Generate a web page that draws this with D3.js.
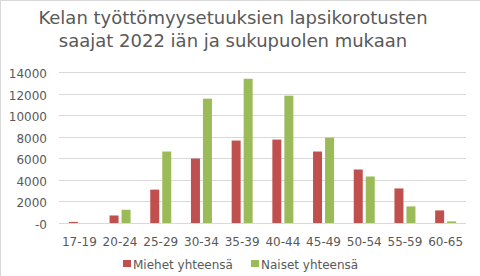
<!DOCTYPE html>
<html>
<head>
<meta charset="utf-8">
<script src="https://cdn.jsdelivr.net/npm/d3@7"></script>
<style>
  body { margin: 0; background: #fff; }
  text { font-family: "DejaVu Sans", sans-serif; fill: #595959; }
</style>
</head>
<body>
<div id="chart"></div>
<script>
// data
const ageGroups = ['17-19', '20-24', '25-29', '30-34', '35-39', '40-44', '45-49', '50-54', '55-59', '60-65'];
const seriesNames = ['Miehet yhteensä', 'Naiset yhteensä'];
const menValues = [100, 700, 3100, 5990, 7660, 7750, 6640, 4970, 3210, 1170];
const womenValues = [0, 1230, 6640, 11550, 13400, 11830, 7930, 4320, 1540, 150];
const yTicks = [0, 2000, 4000, 6000, 8000, 10000, 12000, 14000];
const titleLines = ['Kelan työttömyysetuuksien lapsikorotusten', 'saajat 2022 iän ja sukupuolen mukaan'];

const colors = ['#C0504D', '#9BBB59'];

let width = 480;
let height = 276;
let margin = { top: 72, bottom: 53, left: 59, right: 14 };

let svg = d3.select('#chart')
  .append('svg')
  .attr('width', width)
  .attr('height', height);

// thin frame (only the left/top edges show in the reference)
svg.append('rect')
  .attr('x', 0.5).attr('y', 0.5)
  .attr('width', width + 10).attr('height', height + 10)
  .attr('fill', 'none')
  .attr('stroke', '#d9d9d9');

let rows = ageGroups.map((g, i) => ({ group: g, values: [menValues[i], womenValues[i]] }));

let xScale = d3.scaleBand()
  .domain(ageGroups)
  .range([margin.left, width - margin.right]);

let bw = xScale.bandwidth();
let x1 = d3.scaleBand()
  .domain([0, 1])
  .range([bw / 2 - 10.5, bw / 2 + 10.5])
  .paddingInner(0.25);

let yScale = d3.scaleLinear()
  .domain([0, 14000])
  .range([height - margin.bottom, margin.top + 0.3]);

// gridlines
svg.append('g')
  .selectAll('line')
  .data(yTicks)
  .enter().append('line')
  .attr('x1', margin.left)
  .attr('x2', width - margin.right)
  .attr('y1', d => Math.round(yScale(d)) + 0.5)
  .attr('y2', d => Math.round(yScale(d)) + 0.5)
  .attr('stroke', '#d9d9d9')
  .attr('stroke-width', 1);

// y axis labels (Excel formats zero as "-0")
let yAxis = svg.append('g')
  .attr('transform', `translate(${margin.left - 12},0)`)
  .call(d3.axisLeft(yScale).tickValues(yTicks).tickSize(0).tickPadding(0)
    .tickFormat(d => d === 0 ? '-0' : d3.format('d')(d)));
yAxis.select('.domain').remove();
yAxis.selectAll('text')
  .style('font-size', '12px')
  .attr('fill', '#595959')
  .attr('dy', '0.45em');

// bars
let g = svg.selectAll('.grp')
  .data(rows)
  .enter().append('g')
  .attr('class', 'grp')
  .attr('transform', d => `translate(${xScale(d.group)},0)`);

g.selectAll('rect')
  .data(d => d.values)
  .enter().append('rect')
  .attr('x', (d, i) => x1(i))
  .attr('y', d => yScale(d))
  .attr('width', x1.bandwidth())
  .attr('height', d => yScale(0) - yScale(d))
  .attr('fill', (d, i) => colors[i]);

// x axis labels
let xAxis = svg.append('g')
  .attr('transform', `translate(0,${height - margin.bottom})`)
  .call(d3.axisBottom(xScale).tickSize(0).tickPadding(14));
xAxis.select('.domain').remove();
xAxis.selectAll('text')
  .style('font-size', '12px')
  .attr('fill', '#595959');

// title
svg.append('g')
  .selectAll('text')
  .data(titleLines)
  .enter().append('text')
  .attr('x', 233)
  .attr('y', (d, i) => 24 + i * 23)
  .attr('text-anchor', 'middle')
  .style('font-size', '18px')
  .text(d => d);

// legend
let legendX = [123, 251];
let legend = svg.selectAll('.legend')
  .data(seriesNames)
  .enter().append('g')
  .attr('class', 'legend')
  .attr('transform', (d, i) => `translate(${legendX[i]},259)`);

legend.append('rect')
  .attr('y', 1)
  .attr('width', 8)
  .attr('height', 7)
  .attr('fill', (d, i) => colors[i]);

legend.append('text')
  .attr('x', 10)
  .attr('y', 6)
  .attr('dy', '0.35em')
  .style('font-size', '12px')
  .text(d => d);
</script>
</body>
</html>
